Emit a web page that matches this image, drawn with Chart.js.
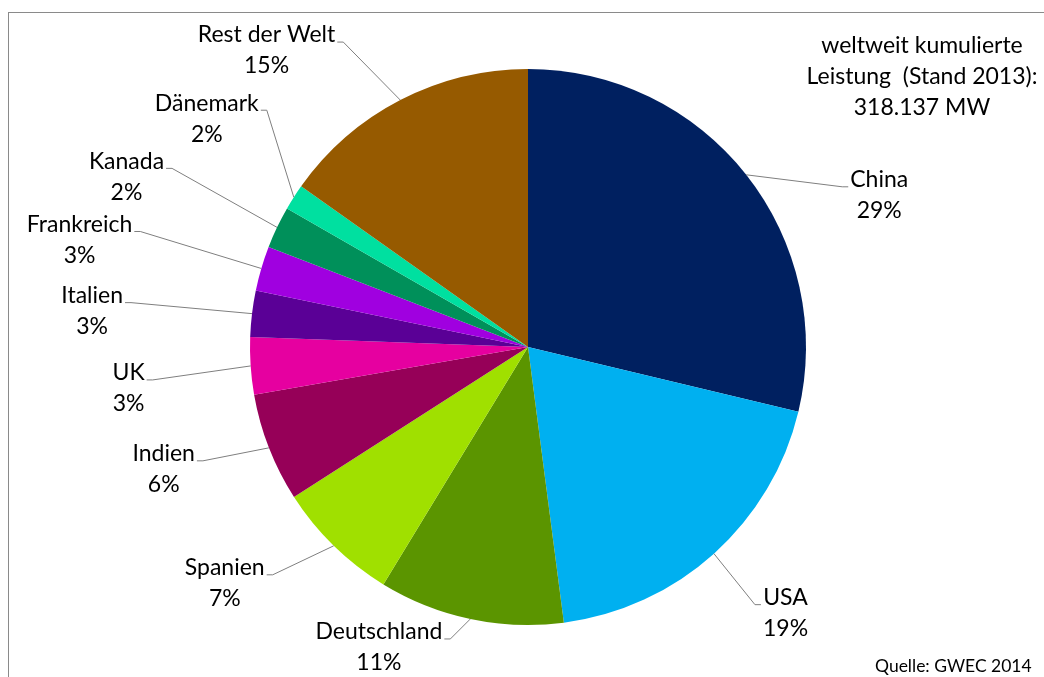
<!DOCTYPE html>
<html lang="de">
<head>
<meta charset="utf-8">
<title>Windenergie weltweit 2013</title>
<script src="https://cdn.jsdelivr.net/npm/chart.js@4"></script>
<style>
  html, body { margin: 0; padding: 0; background: #fff; }
  #wrap { position: relative; width: 1044px; height: 677px; }
</style>
</head>
<body>
<div id="wrap"><canvas id="wind__chart"></canvas></div>
<script>
// installierte Leistung in MW, Stand Ende 2013 (GWEC)
const countries = ['China', 'USA', 'Deutschland', 'Spanien', 'Indien', 'UK',
  'Italien', 'Frankreich', 'Kanada', 'Dänemark', 'Rest der Welt'];
const capacityMW = [91412, 61091, 34250, 22959, 20150, 10531,
  8552, 8254, 7803, 4772, 48331];
const sliceColors = ['#002060', '#00B0F0', '#5B9500', '#A0E000', '#960058', '#E600A0',
  '#5A0096', '#A000E0', '#00905A', '#00E0A0', '#965A00'];
const infoLines = ['weltweit kumulierte', 'Leistung  (Stand 2013):', '318.137 MW'];
const sourceText = 'Quelle: GWEC 2014';

// where each leader line bends, relative to the middle of its slice's rim
const leaderOffsets = [
  [96, 12], [41, 51], [-20, 20], [-61, 29], [-66, 13], [-98, 14],
  [-121, -11], [-121, -37], [-105, -59], [-27, -87], [-57, -58],
];

const FONT = 'Lato, "Open Sans", sans-serif';

const frame = {
  id: 'frame',
  beforeDraw(chart) {
    const ctx = chart.ctx;
    ctx.save();
    ctx.strokeStyle = '#8a8a8a';
    ctx.lineWidth = 1;
    ctx.strokeRect(8.5, 12.5, chart.width + 20, chart.height + 20);
    ctx.restore();
  },
};

const sliceLabels = {
  id: 'sliceLabels',
  afterDatasetsDraw(chart) {
    const ctx = chart.ctx;
    const meta = chart.getDatasetMeta(0);
    const values = chart.data.datasets[0].data;
    const total = values.reduce((a, b) => a + b, 0);

    ctx.save();
    ctx.font = '23px ' + FONT;
    ctx.textBaseline = 'middle';
    ctx.textAlign = 'center';
    meta.data.forEach((arc, i) => {
      const p = arc.getProps(['x', 'y', 'startAngle', 'endAngle', 'outerRadius'], true);
      const mid = (p.startAngle + p.endAngle) / 2;
      const x0 = p.x + Math.cos(mid) * p.outerRadius;
      const y0 = p.y + Math.sin(mid) * p.outerRadius;
      const [dx, dy] = leaderOffsets[i];
      const kx = x0 + dx;
      const ky = y0 + dy;
      const dir = dx > 0 ? 1 : -1;

      ctx.strokeStyle = '#7f7f7f';
      ctx.lineWidth = 1;
      ctx.beginPath();
      ctx.moveTo(x0, y0);
      ctx.lineTo(kx, ky);
      ctx.lineTo(kx + dir * 6, ky);
      ctx.stroke();

      const name = chart.data.labels[i];
      const pct = Math.round(values[i] / total * 100) + '%';
      const w = Math.max(ctx.measureText(name).width, ctx.measureText(pct).width);
      const cx = kx + dir * (8 + w / 2);
      ctx.fillStyle = '#000';
      ctx.fillText(name, cx, ky - 7);
      ctx.fillText(pct, cx, ky + 24);
    });

    // Gesamtleistung oben rechts
    infoLines.forEach((line, i) => {
      ctx.fillText(line, 922, 46 + i * 31);
    });

    ctx.font = '17.5px ' + FONT;
    ctx.textAlign = 'left';
    ctx.fillText(sourceText, 875, 666);
    ctx.restore();
  },
};

new Chart(document.getElementById('wind__chart'), {
  type: 'pie',
  data: {
    labels: countries,
    datasets: [{
      data: capacityMW,
      backgroundColor: sliceColors,
      hoverBackgroundColor: sliceColors,
      borderWidth: 0,
      hoverOffset: 0,
      offset: 0,
    }],
  },
  options: {
    responsive: true,
    maintainAspectRatio: false,
    animation: false,
    events: [],
    layout: { padding: { top: 69, right: 238, bottom: 52, left: 250 } },
    plugins: {
      legend: { display: false },
      tooltip: { enabled: false },
    },
  },
  plugins: [frame, sliceLabels],
});
</script>
</body>
</html>
